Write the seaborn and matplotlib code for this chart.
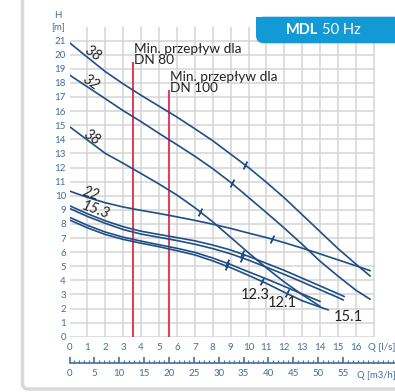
import pandas as pd
import seaborn as sns
import matplotlib.pyplot as plt
import matplotlib.transforms as mtransforms
from matplotlib.patches import FancyBboxPatch, Rectangle

# --- Pump curves: flow Q [l/s] vs head H [m] ---
q_38a = [0, 1, 2, 3, 4, 5, 6, 7, 8, 9, 10, 11, 12, 13, 14, 15, 16, 16.8]
h_38a = [20.85, 19.82, 18.8, 17.93, 17.12, 16.35, 15.58, 14.75, 13.9, 12.95, 12.0, 10.95, 9.85, 8.65, 7.45, 6.25, 5.15, 4.3]

q_32 = [0, 1, 2, 3, 4, 5, 6, 7, 8, 9, 10, 11, 12, 13, 14, 15, 16, 16.8]
h_32 = [18.56, 17.72, 16.88, 16.03, 15.25, 14.42, 13.62, 12.8, 11.92, 10.95, 9.88, 8.8, 7.7, 6.55, 5.35, 4.3, 3.3, 2.65]

q_38b = [0, 1, 2, 3, 4, 5, 6, 7, 8, 9, 10, 11, 12, 13, 14]
h_38b = [14.9, 13.95, 13.0, 12.3, 11.57, 10.83, 10.05, 9.15, 8.15, 7.05, 5.95, 4.88, 3.88, 2.98, 2.15]

q_22 = [0, 1, 2, 3, 4, 5, 6, 7, 8, 9, 10, 11, 12, 13, 14, 15, 16, 16.8]
h_22 = [10.33, 9.88, 9.5, 9.2, 8.96, 8.74, 8.5, 8.25, 7.98, 7.68, 7.35, 7.03, 6.67, 6.28, 5.87, 5.45, 5.03, 4.68]

q_153 = [0, 1, 2, 3, 4, 5, 6, 7, 8, 9, 10, 11, 12, 13, 14, 15, 15.35]
h_153 = [9.29, 8.72, 8.22, 7.8, 7.48, 7.25, 7.03, 6.8, 6.5, 6.15, 5.7, 5.2, 4.7, 4.15, 3.6, 3.05, 2.85]

q_151 = [0, 1, 2, 3, 4, 5, 6, 7, 8, 9, 10, 11, 12, 13, 14, 15, 15.3]
h_151 = [9.1, 8.53, 8.04, 7.6, 7.28, 7.05, 6.82, 6.56, 6.25, 5.88, 5.43, 4.93, 4.42, 3.88, 3.33, 2.78, 2.6]

q_123 = [0, 1, 2, 3, 4, 5, 6, 7, 8, 9, 10, 11, 12, 13, 14]
h_123 = [8.47, 7.9, 7.42, 7.06, 6.78, 6.52, 6.27, 5.98, 5.58, 5.12, 4.6, 4.1, 3.57, 3.03, 2.5]

q_121 = [0, 1, 2, 3, 4, 5, 6, 7, 8, 9, 10, 11, 12, 13, 14, 14.46]
h_121 = [8.28, 7.72, 7.25, 6.9, 6.63, 6.38, 6.1, 5.8, 5.38, 4.9, 4.35, 3.78, 3.15, 2.55, 2.1, 1.9]

curves = {
    "38a": (q_38a, h_38a), "32": (q_32, h_32), "38b": (q_38b, h_38b), "22": (q_22, h_22),
    "15.3": (q_153, h_153), "15.1": (q_151, h_151), "12.3": (q_123, h_123), "12.1": (q_121, h_121),
}

# best efficiency point marks (flow in l/s) on each curve
bep_q = {"38a": [9.8], "32": [9.06], "38b": [7.29], "22": [11.3],
         "15.3": [9.62], "15.1": [9.62], "12.3": [8.8], "12.1": [8.8, 10.74, 12.13]}

# minimum flow lines
min_flow_q = [3.52, 5.55]
min_flow_top = [19.5, 17.5]
min_flow_text = ["Min. przepływ dla\nDN 80", "Min. przepływ dla\nDN 100"]

# curve labels (text, Q, H, rotation)
curve_labels = [("38", 1.3, 20.05, -35), ("32", 1.2, 18.05, -35), ("38", 1.25, 14.15, -35),
                ("22", 1.2, 10.15, -18), ("15.3", 1.45, 8.95, -20),
                ("12.3", 10.4, 2.95, 0), ("12.1", 11.9, 2.37, 0), ("15.1", 15.6, 1.38, 0)]

q_ticks = list(range(0, 17))
h_ticks = list(range(0, 22))
m3h_ticks = list(range(0, 60, 5))

BLUE_TXT = "#3f6f9f"
CURVE = "#1f4e85"
RED = "#d8455d"
GRID = "#d4d4d4"

sns.set_style("white")
plt.rcParams['font.family'] = ['Lato', 'DejaVu Sans']

fig = plt.figure(figsize=(3.95, 3.92), dpi=100)
ax = fig.add_axes([69.5 / 395, 55.3 / 392, 18.5 * 17.9 / 395, 22 * 14.1 / 392])
ax.set_xlim(0, 18.5)
ax.set_ylim(0, 22)
for s in ax.spines.values():
    s.set_visible(False)

# grid drawn by hand so it stops at 17 l/s
ax.hlines(h_ticks, 0, 17, color=GRID, lw=1.1, zorder=0)
ax.vlines(range(1, 18), 0, 22, color=GRID, lw=1.1, zorder=0)

# curves
rows = []
for name, (q, h) in curves.items():
    for qi, hi in zip(q, h):
        rows.append({"curve": name, "Q": qi, "H": hi})
df = pd.DataFrame(rows)
sns.lineplot(data=df, x="Q", y="H", hue="curve", units="curve", estimator=None, sort=False,
             palette=[CURVE] * len(curves), lw=1.2, legend=False, ax=ax, zorder=3)
ax.set_xlabel("")
ax.set_ylabel("")

# BEP tick marks
for name, qs in bep_q.items():
    q, h = curves[name]
    for qb in qs:
        hb = pd.Series(h, index=q).reindex(sorted(set(q) | {qb})).interpolate("index")[qb]
        ax.plot(qb, hb, marker=(2, 2, -25), ms=6, mew=1.0, color=CURVE, zorder=4)

# minimum flow lines
for q, top, txt in zip(min_flow_q, min_flow_top, min_flow_text):
    ax.vlines(q, 0, top, color=RED, lw=1.5, zorder=2)
    ax.text(q + 0.08, top + 1.35, txt, fontsize=9.8, va="top", ha="left", color="#222222",
            linespacing=0.95, zorder=5)

for txt, q, h, rot in curve_labels:
    ax.text(q, h, txt, fontsize=10.5, style="italic" if rot else "normal", rotation=rot,
            ha="center", va="center", color="#222222", zorder=5)

# primary axis ticks
ax.set_yticks(h_ticks)
ax.set_yticklabels([str(v) for v in h_ticks])
ax.set_xticks(q_ticks + [17.45])
ax.set_xticklabels([str(v) for v in q_ticks] + ["Q [l/s]"])
ax.tick_params(axis="both", length=0, labelsize=7, labelcolor=BLUE_TXT)
ax.tick_params(axis="y", pad=2.5)
ax.tick_params(axis="x", pad=4.5)
ax.text(-0.63, 22.8, "H", fontsize=7, color=BLUE_TXT, ha="center", va="center")
ax.text(-0.63, 21.9, "[m]", fontsize=7, color=BLUE_TXT, ha="center", va="center")

# secondary flow axis in m3/h
sec = ax.secondary_xaxis(-0.0848, functions=(lambda x: x * 3.6, lambda x: x / 3.6))
sec.set_xticks(m3h_ticks)
sec.set_xticks(range(0, 67), minor=True)
sec.spines["bottom"].set_color(BLUE_TXT)
sec.spines["bottom"].set_linewidth(1.2)
sec.tick_params(axis="x", which="major", direction="in", length=4.5, width=1.2, color=BLUE_TXT,
                labelsize=7, labelcolor=BLUE_TXT, pad=4)
sec.tick_params(axis="x", which="minor", direction="in", length=2.5, width=0.8, color=BLUE_TXT)
sec.set_xlabel("")
trans = mtransforms.blended_transform_factory(ax.transData, ax.transAxes)
ax.text(16.05, -0.1245, "Q [m3/h]", transform=trans, fontsize=6.8, color=BLUE_TXT,
        ha="left", va="center", clip_on=False)

# frame and header tab
fig.patches.append(FancyBboxPatch((22.5 / 395, 3.0 / 392), 1.2, 1.2, boxstyle="round,pad=0,rounding_size=0.015",
                                  transform=fig.transFigure, fill=False, ec="#d9d9d9", lw=2.5, zorder=0))
fig.patches.append(FancyBboxPatch((256 / 395, (392 - 43.3) / 392), 0.5, 26.6 / 392,
                                  boxstyle="round,pad=0,rounding_size=0.02",
                                  transform=fig.transFigure, fc="#1399d6", ec="none", zorder=1))
fig.patches.append(Rectangle((256 / 395, (392 - 30) / 392), 0.5, 13.3 / 392,
                             transform=fig.transFigure, fc="#1399d6", ec="none", zorder=1))
fig.text(318.5 / 395, (392 - 30.5) / 392, "MDL", fontsize=10.5, fontweight="bold", color="white",
         ha="right", va="center")
fig.text(321.5 / 395, (392 - 30.5) / 392, "50 Hz", fontsize=10.5, color="white", ha="left", va="center")

fig.savefig("out.png", dpi=100)
